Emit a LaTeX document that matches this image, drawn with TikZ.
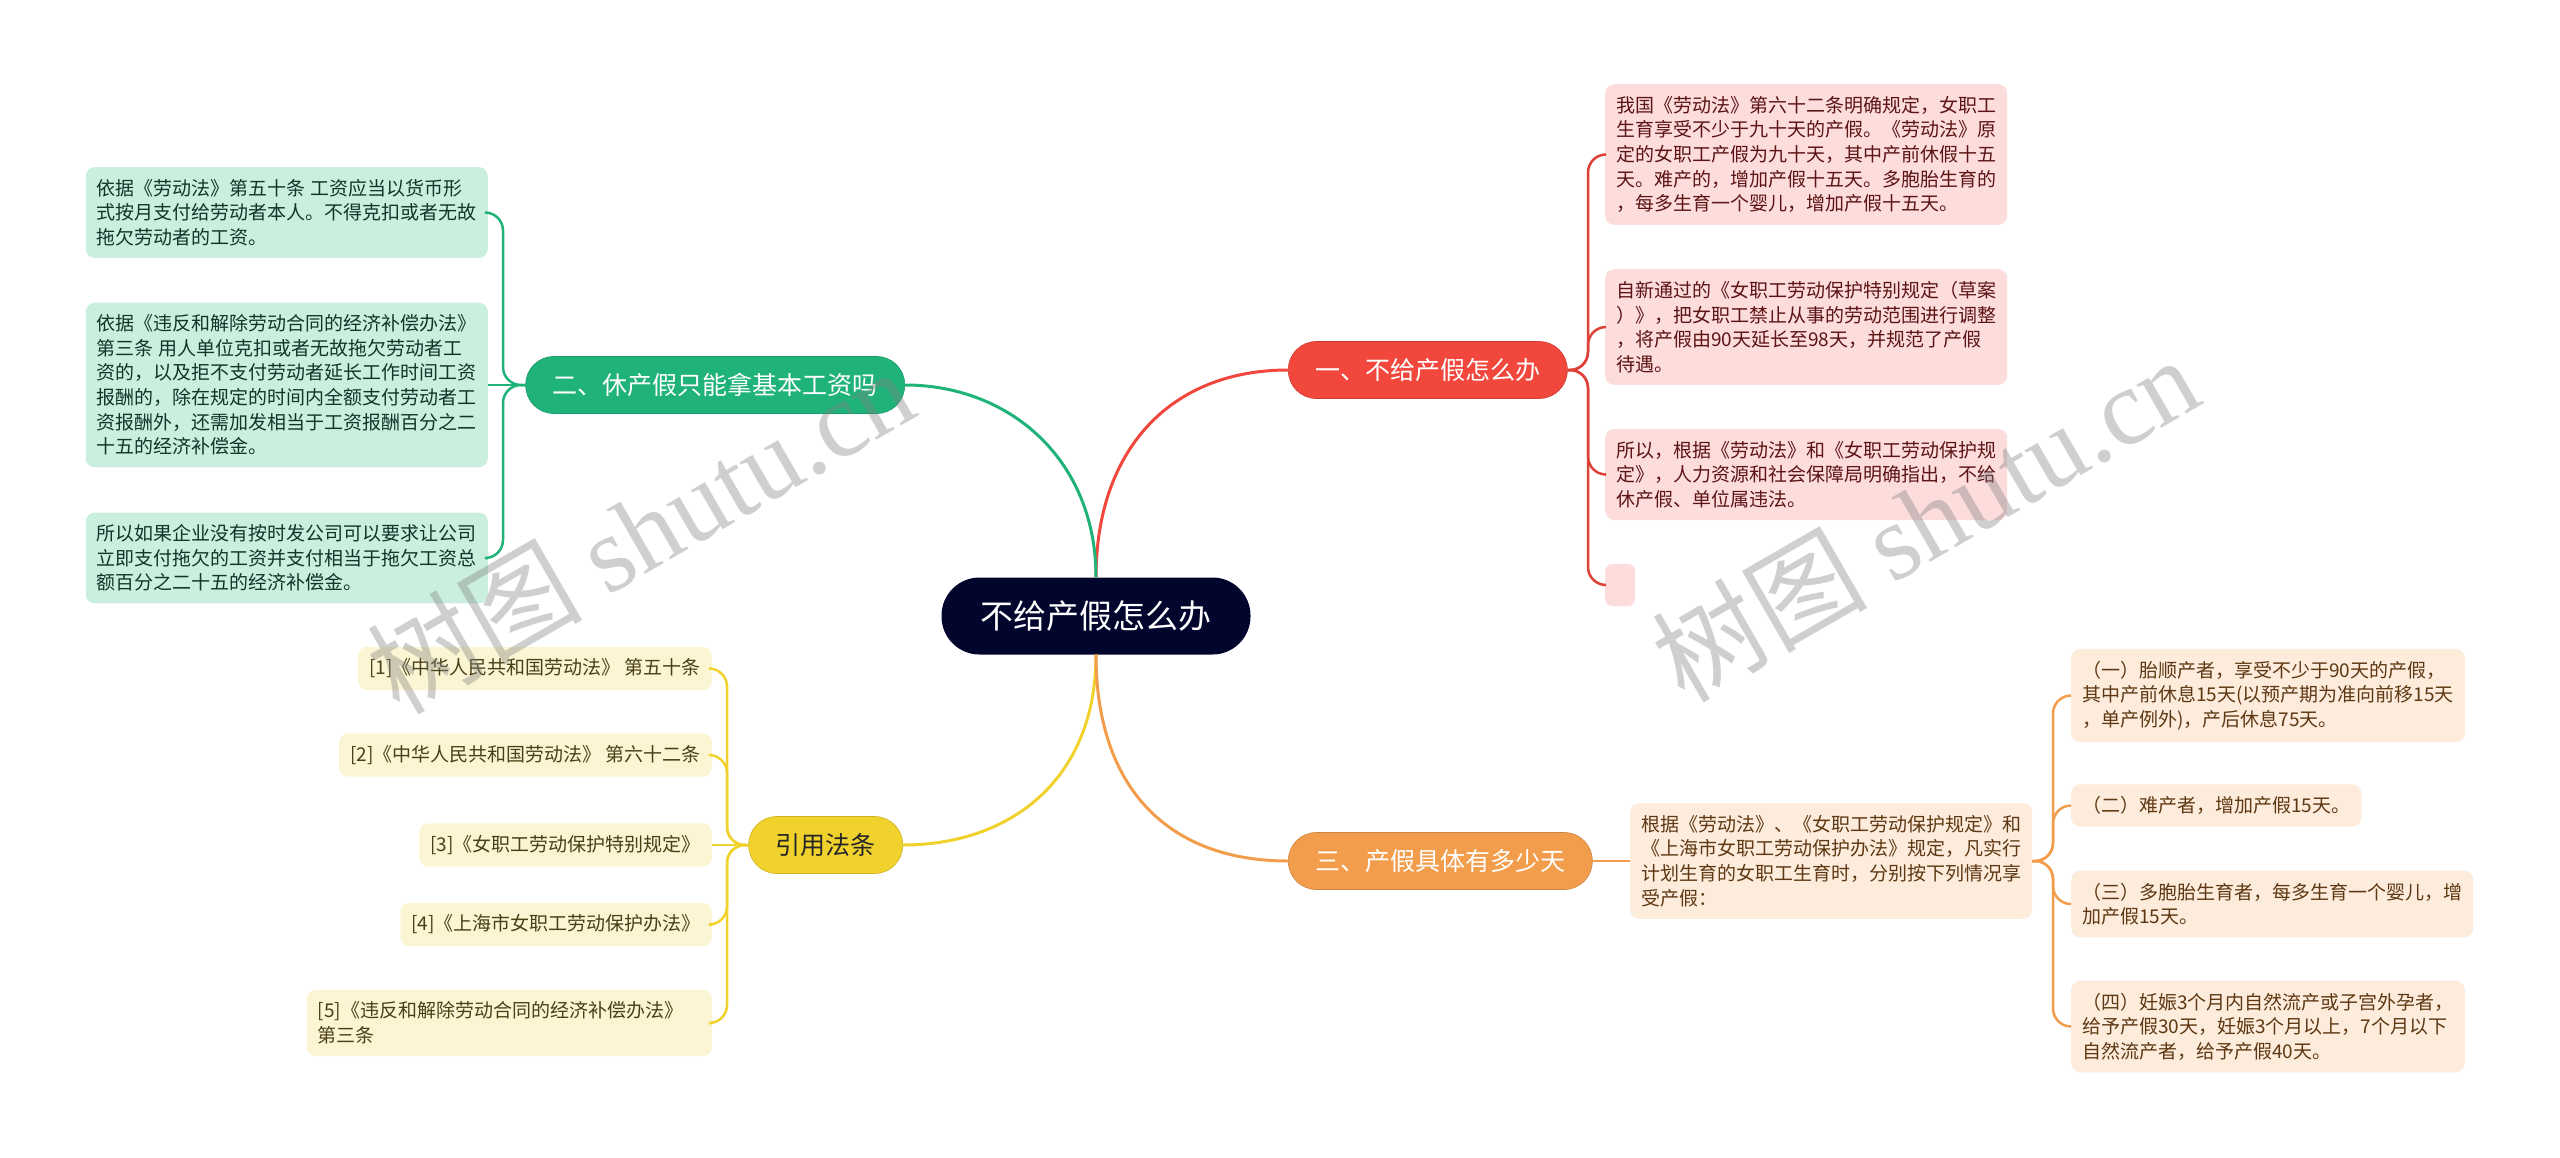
\documentclass[tikz,border=0pt]{standalone}
\usepackage{fontspec}
\setmainfont{Noto Sans CJK SC}
\newfontfamily\wmlatin{Liberation Serif}

\definecolor{rootnavy}{HTML}{03062C}
\definecolor{redmain}{HTML}{F1473C}
\definecolor{redleaf}{HTML}{FDDCDC}
\definecolor{redtext}{HTML}{5C1414}
\definecolor{greenmain}{HTML}{1FB37A}
\definecolor{greenleaf}{HTML}{CBEFDF}
\definecolor{greentext}{HTML}{12352A}
\definecolor{orangemain}{HTML}{F29D4B}
\definecolor{orangeleaf}{HTML}{FDEBDC}
\definecolor{orangetext}{HTML}{5E3812}
\definecolor{yellowmain}{HTML}{F1D12C}
\definecolor{yellowleaf}{HTML}{FCF5D4}
\definecolor{yellowtext}{HTML}{4A4016}

\tikzset{
  pill/.style={rounded corners=28pt, minimum height=57pt, inner xsep=27pt, inner ysep=0pt,
    font=\fontsize{25pt}{30pt}\selectfont},
  leaf/.style={rounded corners=9pt, inner xsep=11pt, inner ysep=12pt, align=left,
    font=\fontsize{19pt}{24.6pt}\selectfont},
  link/.style={line width=3pt},
  fork/.style={line width=2.5pt, rounded corners=18pt},
}

\begin{document}
\begin{tikzpicture}[x=1pt,y=-1pt]
  \useasboundingbox (0,0) rectangle (2560,1157); % same window as the reference
  % centre and the four branches
  \node[fill=rootnavy, text=white, rounded corners=38pt, minimum height=77pt, inner xsep=39pt,
    font=\fontsize{33pt}{40pt}\selectfont] (root) at (1096,616) {不给产假怎么办};
  \node[pill, fill=redmain, draw=redmain!85!black, line width=0.6pt, text=white, anchor=west] (red) at (1288,370) {一、不给产假怎么办};
  \node[pill, fill=greenmain, draw=greenmain!85!black, line width=0.6pt, text=white, anchor=east] (green) at (905,385) {二、休产假只能拿基本工资吗};
  \node[pill, fill=orangemain, draw=orangemain!85!black, line width=0.6pt, text=white, anchor=west] (orange) at (1288,861) {三、产假具体有多少天};
  \node[pill, fill=yellowmain, draw=yellowmain!85!black, line width=0.6pt, text=black!85, anchor=east] (yellow) at (903,845) {引用法条};
  \draw[link, redmain] (root.north) .. controls (1096,450) and (1170,370) .. (red.west);
  \draw[link, greenmain] (root.north) .. controls (1096,460) and (1010,385) .. (green.east);
  \draw[link, yellowmain] (root.south) .. controls (1096,780) and (1010,845) .. (yellow.east);
  \draw[link, orangemain] (root.south) .. controls (1096,790) and (1170,861) .. (orange.west);

  % red leaves
  \node[leaf, fill=redleaf, text=redtext, anchor=west] (r1) at (1605,154.5) {我国《劳动法》第六十二条明确规定，女职工\\生育享受不少于九十天的产假。《劳动法》原\\定的女职工产假为九十天，其中产前休假十五\\天。难产的，增加产假十五天。多胞胎生育的\\，每多生育一个婴儿，增加产假十五天。};
  \node[leaf, fill=redleaf, text=redtext, anchor=west] (r2) at (1605,327) {自新通过的《女职工劳动保护特别规定（草案\\）》，把女职工禁止从事的劳动范围进行调整\\，将产假由90天延长至98天，并规范了产假\\待遇。};
  \node[leaf, fill=redleaf, text=redtext, anchor=west] (r3) at (1605,474.5) {所以，根据《劳动法》和《女职工劳动保护规\\定》，人力资源和社会保障局明确指出，不给\\休产假、单位属违法。};
  \node[fill=redleaf, rounded corners=7pt, minimum width=30pt, minimum height=42pt, inner sep=0pt, anchor=west] (r4) at (1605,585) {};
  \foreach \leaf in {r1,r2,r3,r4}
    \draw[fork, redmain!92!black] (red.east) -- (1588,370) |- (\leaf.west);

  % green leaves
  \node[leaf, fill=greenleaf, text=greentext, anchor=east] (g1) at (488,212.5) {依据《劳动法》第五十条 工资应当以货币形\\式按月支付给劳动者本人。不得克扣或者无故\\拖欠劳动者的工资。};
  \node[leaf, fill=greenleaf, text=greentext, anchor=east] (g2) at (488,385) {依据《违反和解除劳动合同的经济补偿办法》\\第三条 用人单位克扣或者无故拖欠劳动者工\\资的，以及拒不支付劳动者延长工作时间工资\\报酬的，除在规定的时间内全额支付劳动者工\\资报酬外，还需加发相当于工资报酬百分之二\\十五的经济补偿金。};
  \node[leaf, fill=greenleaf, text=greentext, anchor=east] (g3) at (488,558) {所以如果企业没有按时发公司可以要求让公司\\立即支付拖欠的工资并支付相当于拖欠工资总\\额百分之二十五的经济补偿金。};
  \draw[fork, greenmain] (green.west) -- (g2.east);
  \foreach \leaf in {g1,g3}
    \draw[fork, greenmain] (green.west) -- (503,385) |- (\leaf.east);

  % yellow leaves: the sources
  \node[leaf, fill=yellowleaf, text=yellowtext, anchor=east] (y1) at (712,668.5) {[1]《中华人民共和国劳动法》 第五十条};
  \node[leaf, fill=yellowleaf, text=yellowtext, anchor=east] (y2) at (712,755) {[2]《中华人民共和国劳动法》 第六十二条};
  \node[leaf, fill=yellowleaf, text=yellowtext, anchor=east] (y3) at (712,845) {[3]《女职工劳动保护特别规定》};
  \node[leaf, fill=yellowleaf, text=yellowtext, anchor=east] (y4) at (712,924.5) {[4]《上海市女职工劳动保护办法》};
  \node[leaf, fill=yellowleaf, text=yellowtext, anchor=east, text width=383pt] (y5) at (712,1023) {[5]《违反和解除劳动合同的经济补偿办法》\\第三条};
  \draw[fork, yellowmain] (yellow.west) -- (y3.east);
  \foreach \leaf in {y1,y2,y4,y5}
    \draw[fork, yellowmain] (yellow.west) -- (727,845) |- (\leaf.east);

  % orange leaves
  \node[leaf, fill=orangeleaf, text=orangetext, anchor=west] (omid) at (1630,861) {根据《劳动法》、《女职工劳动保护规定》和\\《上海市女职工劳动保护办法》规定，凡实行\\计划生育的女职工生育时，分别按下列情况享\\受产假：};
  \draw[fork, orangemain] (orange.east) -- (omid.west);
  \node[leaf, fill=orangeleaf, text=orangetext, anchor=west] (o1) at (2071,695.5) {（一）胎顺产者，享受不少于90天的产假，\\其中产前休息15天(以预产期为准向前移15天\\，单产例外)，产后休息75天。};
  \node[leaf, fill=orangeleaf, text=orangetext, anchor=west] (o2) at (2071,805.5) {（二）难产者，增加产假15天。};
  \node[leaf, fill=orangeleaf, text=orangetext, anchor=west] (o3) at (2071,904) {（三）多胞胎生育者，每多生育一个婴儿，增\\加产假15天。};
  \node[leaf, fill=orangeleaf, text=orangetext, anchor=west] (o4) at (2071,1026.5) {（四）妊娠3个月内自然流产或子宫外孕者，\\给予产假30天，妊娠3个月以上，7个月以下\\自然流产者，给予产假40天。};
  \foreach \leaf in {o1,o2,o3,o4}
    \draw[fork, orangemain] (omid.east) -- (2053,861) |- (\leaf.west);

  % watermarks
  \node[rotate=30, text=gray, opacity=0.38, font=\fontsize{108pt}{108pt}\selectfont] (wmleft) at (640,530) {树图 {\wmlatin shutu.cn}};
  \node[rotate=30, text=gray, opacity=0.38, font=\fontsize{108pt}{108pt}\selectfont] (wmright) at (1925,518) {树图 {\wmlatin shutu.cn}};
\end{tikzpicture}
\end{document}
